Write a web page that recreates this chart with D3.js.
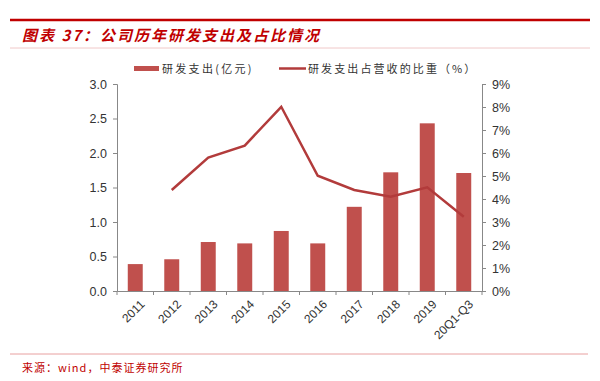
<!DOCTYPE html>
<html><head><meta charset="utf-8">
<script src="https://cdn.jsdelivr.net/npm/d3@7"></script>
<style>body{margin:0;background:#fff}svg{display:block}</style>
</head><body>
<svg id="c" width="600" height="381"></svg>
<script>
const categories = ["2011","2012","2013","2014","2015","2016","2017","2018","2019","20Q1-Q3"];
const rdSpend = [0.39,0.46,0.71,0.69,0.87,0.69,1.22,1.72,2.43,1.71];
const rdRatio = [null,4.39,5.8,6.32,8.01,5.01,4.39,4.1,4.51,3.23];
const leftTicks = [0,0.5,1.0,1.5,2.0,2.5,3.0];
const rightTicks = [0,1,2,3,4,5,6,7,8,9];

const svg = d3.select("#c");
const m = {l:117, r:482, t:84, b:291};
const barColor = "#c0504d", lineColor = "#b23b3b", axisColor = "#888";
const fontLat = "Liberation Sans, Arial, sans-serif";
const fontCJK = "Noto Sans CJK SC, sans-serif";

// header
svg.append("line").attr("x1",10).attr("x2",590).attr("y1",20).attr("y2",20).attr("stroke","#c00000").attr("stroke-width",2.5);
svg.append("text").attr("x",22).attr("y",41).attr("fill","#c00000").attr("font-family",fontCJK)
  .attr("font-size",15).attr("font-weight","bold").attr("font-style","italic").attr("letter-spacing",2).text("图表 37：公司历年研发支出及占比情况");
svg.append("line").attr("x1",10).attr("x2",590).attr("y1",48).attr("y2",48).attr("stroke","#f0c8c8").attr("stroke-width",1);

const x = d3.scaleBand().domain(categories).range([m.l,m.r]).paddingInner(0.59).paddingOuter(0.295);
const xb = d3.scaleBand().domain(categories).range([m.l,m.r]);
const yL = d3.scaleLinear().domain([0,3]).range([m.b,m.t]);
const yR = d3.scaleLinear().domain([0,9]).range([m.b,m.t]);

// bars
svg.append("g").selectAll("rect").data(categories).join("rect")
  .attr("x",d=>x(d)).attr("width",x.bandwidth())
  .attr("y",(d,i)=>yL(rdSpend[i])).attr("height",(d,i)=>m.b-yL(rdSpend[i]))
  .attr("fill",barColor);

// line
const pts = categories.map((c,i)=>({c, v:rdRatio[i]}));
const line = d3.line().defined(d=>d.v!=null).x(d=>xb(d.c)+xb.bandwidth()/2).y(d=>yR(d.v));
svg.append("path").datum(pts).attr("d",line).attr("fill","none").attr("stroke",lineColor).attr("stroke-width",2.5);

// axes
function styleAxis(g){
  g.selectAll("path,line").attr("stroke",axisColor);
  g.selectAll("text").attr("fill","#333").attr("font-family",fontLat).attr("font-size",12.5);
}
const gL = svg.append("g").attr("transform",`translate(${m.l},0)`)
  .call(d3.axisLeft(yL).tickValues(leftTicks).tickFormat(d3.format(".1f")).tickSizeOuter(0).tickSize(4).tickPadding(6));
styleAxis(gL);
const gR = svg.append("g").attr("transform",`translate(${m.r},0)`)
  .call(d3.axisRight(yR).tickValues(rightTicks).tickFormat(d=>d+"%").tickSizeOuter(0).tickSize(4).tickPadding(6));
styleAxis(gR);
const gB = svg.append("g").attr("transform",`translate(0,${m.b})`)
  .call(d3.axisBottom(xb).tickSize(0).tickSizeOuter(0));
styleAxis(gB);
gB.selectAll(".tick text").attr("text-anchor","end").attr("dy",0).attr("dx",0)
  .attr("transform","translate(8,12) rotate(-45)").attr("font-size",12);
// boundary ticks
gB.append("g").selectAll("line").data(d3.range(categories.length+1)).join("line")
  .attr("x1",i=>m.l+i*xb.step()).attr("x2",i=>m.l+i*xb.step()).attr("y1",0).attr("y2",4).attr("stroke",axisColor);

// legend
svg.append("rect").attr("x",134).attr("y",66).attr("width",25).attr("height",5).attr("fill",barColor);
svg.append("text").attr("x",162).attr("y",72.5).attr("font-family",fontCJK).attr("font-size",11).attr("letter-spacing",2.3).attr("fill","#333").text("研发支出(亿元)");
svg.append("line").attr("x1",279).attr("x2",306).attr("y1",68.5).attr("y2",68.5).attr("stroke",lineColor).attr("stroke-width",2.5);
svg.append("text").attr("x",308).attr("y",72.5).attr("font-family",fontCJK).attr("font-size",11).attr("letter-spacing",2.1).attr("fill","#333").text("研发支出占营收的比重（%）");

// footer
svg.append("line").attr("x1",10).attr("x2",588).attr("y1",354).attr("y2",354).attr("stroke","#e8a0a0").attr("stroke-width",1);
svg.append("text").attr("x",22).attr("y",372).attr("font-family",fontCJK).attr("font-size",11).attr("letter-spacing",1).attr("fill","#c00000").text("来源：wind，中泰证券研究所");
</script>
</body></html>
